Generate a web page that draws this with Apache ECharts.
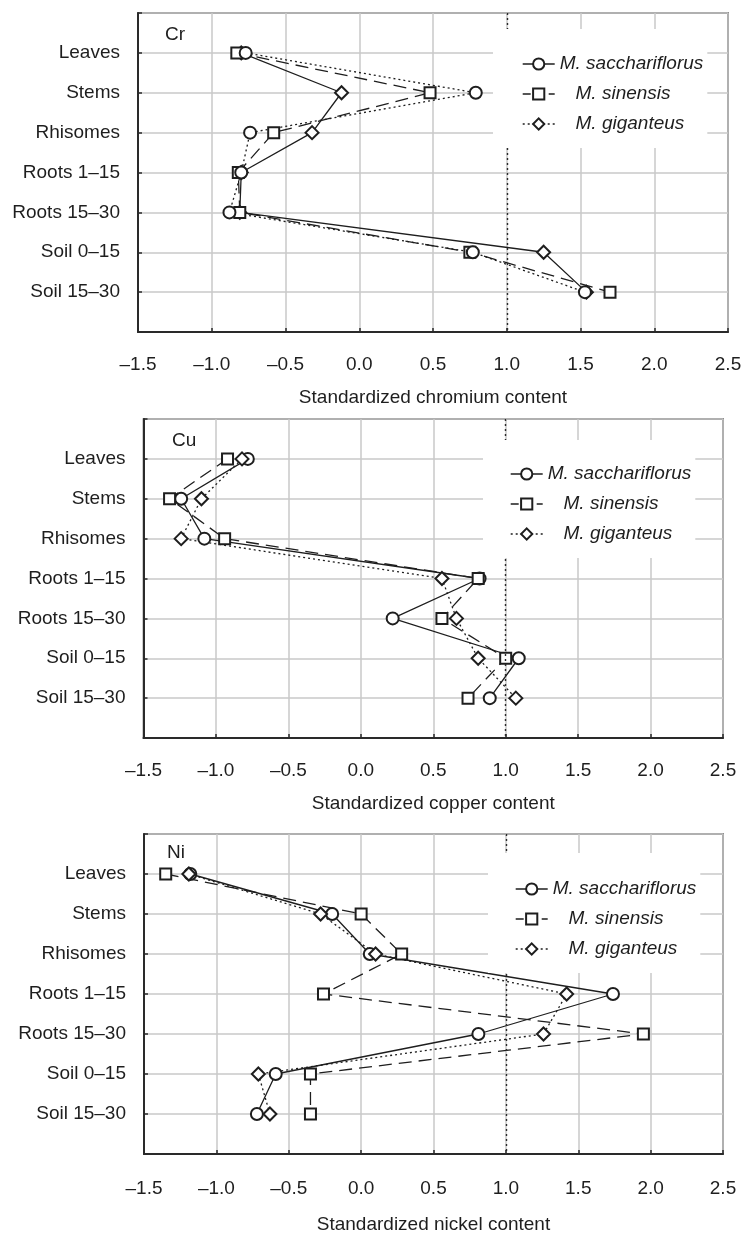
<!DOCTYPE html>
<html>
<head>
<meta charset="utf-8">
<script src="https://cdn.jsdelivr.net/npm/echarts@6/dist/echarts.min.js"></script>
<style>
  html, body { margin: 0; padding: 0; background: #fff; }
  #chart { width: 746px; height: 1237px; }
</style>
</head>
<body>
<div id="chart"></div>
<script>
// ---------- data ----------
const categories = ['Leaves', 'Stems', 'Rhisomes', 'Roots 1–15', 'Roots 15–30', 'Soil 0–15', 'Soil 15–30'];
const seriesNames = ['M. sacchariflorus', 'M. sinensis', 'M. giganteus'];
const xTicks = [-1.5, -1.0, -0.5, 0.0, 0.5, 1.0, 1.5, 2.0, 2.5];
const referenceX = [1.0];

// Chromium (values follow the drawn lines)
const crSacchariflorus = [-0.80, -0.12, -0.32, -0.80, -0.81, 1.25, 1.54];
const crSinensis       = [-0.83,  0.48, -0.58, -0.82, -0.81, 0.75, 1.70];
const crGiganteus      = [-0.77,  0.79, -0.74, -0.80, -0.88, 0.77, 1.53];

// Copper
const cuSacchariflorus = [-0.78, -1.24, -1.08, 0.82, 0.22, 1.09, 0.89];
const cuSinensis       = [-0.92, -1.32, -0.94, 0.81, 0.56, 1.00, 0.74];
const cuGiganteus      = [-0.82, -1.10, -1.24, 0.56, 0.66, 0.81, 1.07];

// Nickel
const niSacchariflorus = [-1.18, -0.20, 0.06, 1.74, 0.81, -0.59, -0.72];
const niSinensis       = [-1.35,  0.00, 0.28, -0.26, 1.95, -0.35, -0.35];
const niGiganteus      = [-1.19, -0.28, 0.10, 1.42, 1.26, -0.71, -0.63];

const panelLetters = ['Cr', 'Cu', 'Ni'];
const axisTitles = ['Standardized chromium content', 'Standardized copper content', 'Standardized nickel content'];

// ---------- layout / style ----------
const FONT = '"Liberation Sans", Arial, Helvetica, sans-serif';
const INK = '#1e1e1e';
const panels = [
  { values: [crSacchariflorus, crSinensis, crGiganteus],
    grid: { left: 138, top: 13, width: 590, height: 319 },
    legend: { left: 493, top: 29, padding: [25, 4, 14, 29] },
    letter: { x: 165, y: 35 }, nameGap: 56, labelMargin: 23,
    // in the original Cr panel the solid line carries diamonds and the dotted line circles
    pointSymbols: ['emptyDiamond', 'emptyRect', 'emptyCircle'] },
  { values: [cuSacchariflorus, cuSinensis, cuGiganteus],
    grid: { left: 143.5, top: 419, width: 579.5, height: 319 },
    legend: { left: 483, top: 440, padding: [24, 4, 14, 27] },
    letter: { x: 172, y: 441 }, nameGap: 56, labelMargin: 23,
    pointSymbols: ['emptyCircle', 'emptyRect', 'emptyDiamond'] },
  { values: [niSacchariflorus, niSinensis, niGiganteus],
    grid: { left: 144, top: 834, width: 579, height: 320 },
    legend: { left: 488, top: 853, padding: [26, 4, 14, 27] },
    letter: { x: 167, y: 853 }, nameGap: 61, labelMargin: 25,
    pointSymbols: ['emptyCircle', 'emptyRect', 'emptyDiamond'] }
];
const legendSymbols = ['emptyCircle', 'emptyRect', 'emptyDiamond'];
const symbolSizes = { emptyCircle: 12, emptyRect: 11, emptyDiamond: 13 };
const lineTypes = ['solid', [13, 7], [2, 3]];
const legendLineTypes = ['solid', [8, 5], [2, 3]];

const fmtTick = v => (v < 0 ? '\u2013' + Math.abs(v).toFixed(1) : v.toFixed(1));

const grids = [], xAxes = [], yAxes = [], series = [], legends = [], graphics = [];

panels.forEach((p, i) => {
  grids.push(Object.assign({ show: true, borderColor: '#3a3a3a', borderWidth: 1.5, backgroundColor: 'transparent' }, p.grid));
  xAxes.push({
    type: 'value', gridIndex: i,
    min: xTicks[0], max: xTicks[xTicks.length - 1], interval: xTicks[1] - xTicks[0],
    name: axisTitles[i], nameLocation: 'middle', nameGap: p.nameGap,
    nameTextStyle: { fontFamily: FONT, fontSize: 19, color: INK },
    axisLine: { show: true, onZero: false, lineStyle: { color: '#2a2a2a', width: 2 } },
    axisTick: { show: true, inside: true, length: 4, lineStyle: { color: '#2a2a2a', width: 1.5 } },
    axisLabel: { formatter: fmtTick, fontFamily: FONT, fontSize: 19, color: INK, margin: p.labelMargin,
                 showMinLabel: true, showMaxLabel: true },
    splitLine: { show: true, lineStyle: { color: '#c8c8c8', width: 1.5 } }
  });
  yAxes.push({
    type: 'value', gridIndex: i, inverse: true,
    min: 0, max: categories.length + 1, interval: 1,
    axisLine: { show: true, onZero: false, lineStyle: { color: '#2a2a2a', width: 2 } },
    axisTick: { show: true, inside: true, length: 4, lineStyle: { color: '#2a2a2a', width: 1.5 } },
    axisLabel: { formatter: v => categories[v - 1] || '', fontFamily: FONT, fontSize: 19, color: INK, margin: 18,
                 showMinLabel: true, showMaxLabel: true },
    splitLine: { show: true, lineStyle: { color: '#c8c8c8', width: 1.5 } }
  });
  p.values.forEach((vals, j) => {
    const ps = p.pointSymbols[j];
    const s = {
      type: 'line', name: seriesNames[j], xAxisIndex: i, yAxisIndex: i,
      symbol: legendSymbols[j], symbolSize: symbolSizes[legendSymbols[j]],
      data: vals.map((v, k) => ({ value: [v, k + 1], symbol: ps, symbolSize: symbolSizes[ps] })),
      lineStyle: { color: INK, width: 1.3, type: lineTypes[j] },
      itemStyle: { color: INK, borderWidth: 1.3 },
      emphasis: { disabled: true },
      silent: true, animation: false, z: 3
    };
    if (j === 0) {
      s.markLine = {
        silent: true, symbol: 'none', label: { show: false }, animation: false,
        lineStyle: { type: [2, 3], color: '#2a2a2a', width: 1.4 },
        data: referenceX.map(x => ({ xAxis: x }))
      };
    }
    series.push(s);
  });
  legends.push({
    data: seriesNames.map((n, j) => ({
      name: n,
      lineStyle: { type: legendLineTypes[j], color: INK, width: 1.4 }
    })),
    orient: 'vertical',
    left: p.legend.left, top: p.legend.top, padding: p.legend.padding,
    backgroundColor: '#ffffff', itemWidth: 32, itemHeight: 14, itemGap: 10,
    selectedMode: false, z: 10,
    formatter: n => (n === seriesNames[0] ? n : '   ' + n),
    textStyle: { fontFamily: FONT, fontSize: 19, fontStyle: 'italic', color: INK, lineHeight: 20 }
  });
  graphics.push({
    type: 'text', x: p.letter.x, y: p.letter.y, z: 20,
    style: { text: panelLetters[i], font: '19px ' + FONT, fill: INK, verticalAlign: 'middle', align: 'left' }
  });
});

const chart = echarts.init(document.getElementById('chart'), null, { renderer: 'canvas' });
chart.setOption({
  backgroundColor: '#ffffff',
  animation: false,
  grid: grids, xAxis: xAxes, yAxis: yAxes,
  legend: legends, series: series, graphic: graphics
});
</script>
</body>
</html>
